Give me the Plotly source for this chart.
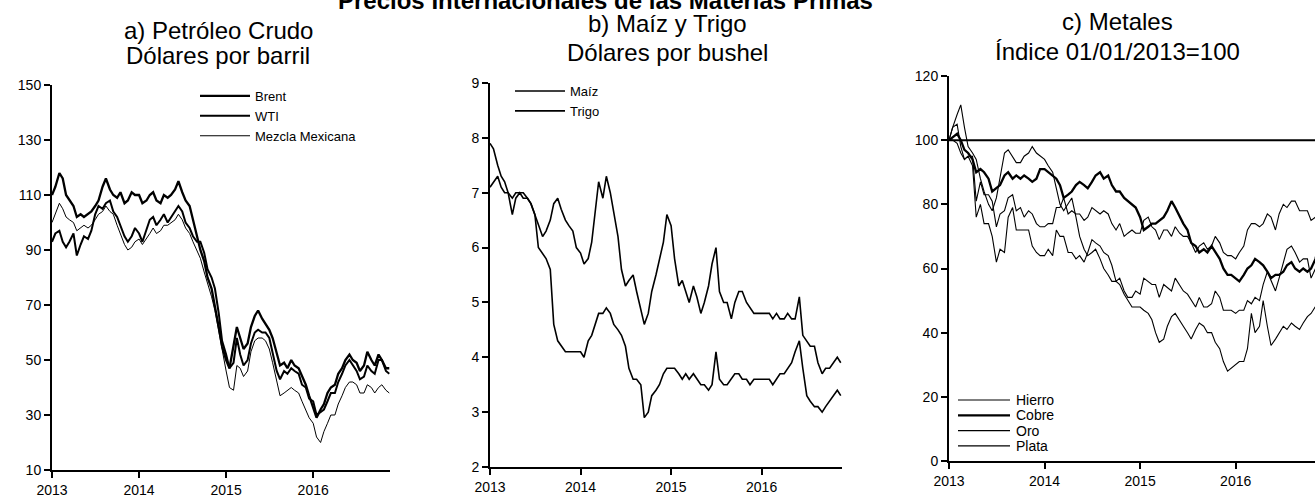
import pandas as pd
import plotly.graph_objects as go

# Semi-monthly observation dates (1st and 15th), Jan 2013 - Nov 2016
dates = pd.date_range("2013-01-01", periods=94, freq="SMS")

# ---------------- a) Petróleo crudo (USD/barril) ----------------
brent = [110, 113, 118, 116, 110, 108, 106, 102, 103, 102, 103, 104, 106, 108, 113, 116, 112, 110, 109, 111, 107, 108, 111, 110,
         110, 107, 108, 110, 111, 108, 107, 110, 109, 110, 112, 115, 111, 108, 106, 101, 96, 90, 86, 80, 76, 70, 62, 55,
         50, 47, 55, 62, 58, 54, 56, 62, 66, 68, 65, 63, 61, 58, 52, 48, 49, 47, 50, 48, 47, 44, 41, 37,
         33, 29, 32, 34, 38, 40, 41, 45, 47, 50, 52, 50, 49, 46, 48, 53, 50, 48, 52, 50, 47, 47]
wti = [93, 96, 97, 93, 91, 93, 96, 88, 92, 95, 94, 97, 103, 106, 105, 107, 108, 104, 102, 99, 95, 93, 95, 98,
       96, 93, 97, 101, 102, 99, 101, 103, 100, 102, 104, 106, 104, 100, 98, 95, 93, 93, 89, 83, 80, 76, 67, 57,
       52, 47, 49, 58, 52, 48, 50, 56, 60, 61, 60, 60, 58, 53, 46, 43, 46, 45, 47, 46, 45, 41, 40, 36,
       35, 30, 31, 32, 35, 38, 38, 42, 45, 48, 50, 48, 46, 43, 44, 48, 46, 45, 50, 50, 46, 45]
mezcla = [100, 103, 107, 105, 102, 101, 100, 97, 98, 99, 98, 99, 101, 103, 104, 106, 104, 103, 99, 96, 92, 90, 91, 93,
          94, 92, 94, 96, 98, 96, 97, 99, 99, 100, 101, 103, 101, 98, 96, 93, 90, 87, 82, 78, 73, 68, 60, 53,
          46, 40, 39, 48, 47, 44, 46, 53, 57, 58, 58, 57, 54, 49, 42, 37, 38, 39, 40, 39, 38, 35, 32, 29,
          27, 22, 20, 24, 27, 30, 30, 34, 37, 40, 42, 42, 41, 38, 38, 41, 40, 38, 40, 41, 39, 38]

# ---------------- b) Maíz y Trigo (USD/bushel) ----------------
maiz = [7.1, 7.2, 7.3, 7.1, 7.0, 7.0, 6.6, 6.9, 7.0, 6.9, 6.9, 6.8, 6.6, 6.0, 5.9, 5.8, 5.6, 4.6, 4.3, 4.2, 4.1, 4.1, 4.1, 4.1,
        4.1, 4.0, 4.3, 4.4, 4.6, 4.8, 4.8, 4.9, 4.8, 4.6, 4.5, 4.4, 4.2, 3.8, 3.6, 3.6, 3.5, 2.9, 3.0, 3.3, 3.4, 3.5, 3.7, 3.8,
        3.8, 3.8, 3.7, 3.6, 3.7, 3.6, 3.7, 3.6, 3.5, 3.5, 3.4, 3.5, 4.1, 3.6, 3.5, 3.5, 3.6, 3.7, 3.7, 3.6, 3.6, 3.5, 3.6, 3.6,
        3.6, 3.6, 3.6, 3.5, 3.6, 3.7, 3.7, 3.8, 3.9, 4.1, 4.3, 3.8, 3.3, 3.2, 3.1, 3.1, 3.0, 3.1, 3.2, 3.3, 3.4, 3.3]
trigo = [7.9, 7.8, 7.5, 7.3, 7.2, 7.0, 6.9, 7.0, 7.0, 7.0, 6.9, 6.8, 6.6, 6.4, 6.2, 6.3, 6.5, 6.8, 6.9, 6.7, 6.5, 6.4, 6.3, 6.0,
         5.9, 5.7, 5.8, 6.1, 6.6, 7.2, 6.9, 7.3, 7.0, 6.6, 6.2, 5.6, 5.3, 5.4, 5.5, 5.2, 4.9, 4.6, 4.8, 5.2, 5.5, 5.8, 6.1, 6.6,
         6.4, 5.8, 5.3, 5.4, 5.2, 5.0, 5.3, 5.1, 4.8, 5.0, 5.3, 5.7, 6.0, 5.2, 5.0, 5.0, 4.7, 5.0, 5.2, 5.2, 5.0, 4.9, 4.8, 4.8,
         4.8, 4.8, 4.8, 4.7, 4.8, 4.7, 4.7, 4.8, 4.7, 4.7, 5.1, 4.4, 4.3, 4.2, 4.2, 3.9, 3.7, 3.8, 3.8, 3.9, 4.0, 3.9]

# ---------------- c) Metales (índice 01/01/2013 = 100) ----------------
hierro = [100, 104, 108, 111, 104, 98, 96, 94, 88, 84, 80, 78, 82, 88, 96, 97, 95, 93, 93, 95, 96, 98, 96, 95,
          94, 92, 90, 85, 80, 78, 80, 82, 76, 70, 66, 64, 65, 66, 63, 60, 58, 56, 56, 55, 52, 50, 48, 48,
          48, 47, 46, 44, 40, 37, 38, 42, 45, 46, 44, 42, 40, 38, 41, 43, 42, 40, 40, 37, 35, 31, 28, 29,
          30, 31, 31, 35, 46, 40, 42, 50, 42, 36, 38, 40, 42, 41, 43, 42, 41, 43, 45, 46, 48, 50]
cobre = [100, 101, 102, 100, 97, 96, 94, 90, 91, 90, 88, 84, 85, 86, 89, 90, 88, 89, 88, 89, 88, 87, 88, 91,
         91, 90, 89, 88, 86, 82, 83, 84, 86, 87, 86, 85, 87, 89, 90, 88, 89, 86, 84, 84, 82, 81, 80, 79,
         76, 72, 73, 74, 74, 75, 76, 78, 81, 79, 76, 74, 72, 68, 67, 65, 66, 65, 67, 65, 63, 60, 58, 58,
         57, 56, 58, 60, 61, 63, 62, 61, 59, 57, 58, 58, 59, 61, 62, 60, 59, 60, 59, 60, 63, 68]
oro = [100, 100, 99, 96, 94, 95, 95, 81, 87, 83, 83, 81, 73, 77, 78, 82, 83, 78, 79, 76, 78, 77, 74, 73,
       73, 74, 74, 79, 79, 82, 77, 78, 77, 77, 75, 76, 79, 78, 77, 78, 77, 74, 72, 74, 70, 71, 72, 71,
       71, 75, 76, 73, 72, 69, 72, 72, 70, 73, 71, 70, 70, 68, 65, 67, 68, 66, 67, 70, 68, 65, 64, 64,
       63, 65, 67, 72, 74, 74, 73, 74, 77, 76, 72, 77, 80, 79, 81, 81, 78, 78, 78, 75, 76, 73]
plata = [100, 104, 105, 98, 94, 95, 92, 76, 80, 74, 74, 70, 62, 66, 65, 76, 79, 72, 72, 72, 72, 67, 65, 64,
         64, 66, 64, 72, 70, 70, 65, 65, 63, 64, 62, 65, 69, 68, 67, 65, 64, 61, 56, 57, 53, 51, 51, 53,
         52, 57, 56, 55, 55, 51, 55, 54, 53, 57, 55, 53, 52, 50, 48, 51, 48, 48, 49, 53, 51, 47, 47, 47,
         46, 47, 47, 50, 49, 51, 50, 55, 59, 56, 53, 57, 62, 66, 67, 65, 62, 63, 63, 57, 60, 56]
base_index = 100

FONT = "Liberation Sans, Arial, sans-serif"
W, H = 1315, 497
fig = go.Figure()


def add(name, y, xa, ya, width, leg, show=True):
    fig.add_trace(go.Scatter(x=dates, y=y, name=name, mode="lines",
                             line=dict(color="black", width=width),
                             xaxis=xa, yaxis=ya, legend=leg, showlegend=show))


add("Brent", brent, "x", "y", 2.3, "legend")
add("WTI", wti, "x", "y", 2.0, "legend")
add("Mezcla Mexicana", mezcla, "x", "y", 1.0, "legend")
add("Maíz", maiz, "x2", "y2", 1.6, "legend2")
add("Trigo", trigo, "x2", "y2", 1.6, "legend2")

metal_series = [("Hierro", hierro, 1.1), ("Cobre", cobre, 2.3), ("Oro", oro, 1.1), ("Plata", plata, 1.1)]
for name, vals, wdt in metal_series:
    add(name, vals, "x3", "y3", wdt, "legend3", show=False)


def xd(a, b):
    return [a / W, b / W]


def yd(top, bottom):
    return [(H - bottom) / H, (H - top) / H]


axis_common = dict(showline=True, linecolor="black", linewidth=2, ticks="outside",
                   ticklen=6, tickwidth=1.5, tickcolor="black", showgrid=False,
                   zeroline=False, automargin=False,
                   tickfont=dict(family=FONT, size=14, color="black"))
xcommon = dict(axis_common, type="date", tickformat="%Y", dtick="M12", tick0="2013-01-01")

leg_common = dict(xanchor="left", yanchor="top", bgcolor="rgba(0,0,0,0)",
                  font=dict(family=FONT, size=13, color="black"),
                  itemwidth=50, tracegroupgap=0, borderwidth=0)

# compact legend for panel c (tighter row spacing than Plotly's legend allows)
shapes = [dict(type="line", xref="x3 domain", x0=0, x1=1, yref="y3",
               y0=base_index, y1=base_index, line=dict(color="black", width=2))]
annotations = []
for i, (name, vals, wdt) in enumerate(metal_series):
    yy = (H - (400 + i * 15.3)) / H
    shapes.append(dict(type="line", xref="paper", yref="paper", x0=958 / W, x1=1010 / W,
                       y0=yy, y1=yy, line=dict(color="black", width=wdt)))
    annotations.append(dict(text=name, x=1014 / W, y=yy, xref="paper", yref="paper",
                            xanchor="left", yanchor="middle", showarrow=False,
                            font=dict(family=FONT, size=14, color="black")))

fig.update_layout(
    width=W, height=H, margin=dict(l=0, r=0, t=0, b=0, autoexpand=False),
    paper_bgcolor="white", plot_bgcolor="white",
    font=dict(family=FONT, color="black"),
    xaxis=dict(xcommon, domain=xd(52, 390), range=["2013-01-01", "2016-11-18"], anchor="y"),
    yaxis=dict(axis_common, domain=yd(85, 470), range=[10, 150], dtick=20, tick0=10, anchor="x"),
    xaxis2=dict(xcommon, domain=xd(490, 842), range=["2013-01-01", "2016-11-20"], anchor="y2"),
    yaxis2=dict(axis_common, domain=yd(83, 467), range=[2, 9], dtick=1, anchor="x2"),
    xaxis3=dict(xcommon, domain=xd(949, 1315), range=["2013-01-01", "2016-10-30"], anchor="y3"),
    yaxis3=dict(axis_common, domain=yd(76, 461), range=[0, 120], dtick=20, anchor="x3"),
    legend=dict(leg_common, x=195 / W, y=(H - 81) / H),
    legend2=dict(leg_common, x=510 / W, y=(H - 76) / H),
    showlegend=True,
    shapes=shapes,
    annotations=annotations,
)

titles = [
    ("a) Petróleo Crudo", 218, 31), ("Dólares por barril", 218, 56),
    ("b) Maíz y Trigo", 667, 24), ("Dólares por bushel", 667, 52),
    ("c) Metales", 1117, 22), ("Índice 01/01/2013=100", 1117, 51),
]
for text, cx, cy in titles:
    fig.add_annotation(text=text, x=cx / W, y=(H - cy) / H, xref="paper", yref="paper",
                       xanchor="center", yanchor="middle", showarrow=False,
                       font=dict(family=FONT, size=24, color="black"))

fig.add_annotation(text="<b>Precios Internacionales de las Materias Primas</b>",
                   x=336 / W, y=(H - 0.5) / H, xref="paper", yref="paper",
                   xanchor="left", yanchor="middle", showarrow=False,
                   font=dict(family=FONT, size=24, color="black"))

fig.write_html("out.html", config={"displayModeBar": False},
               post_script="document.body.style.margin='0';")
